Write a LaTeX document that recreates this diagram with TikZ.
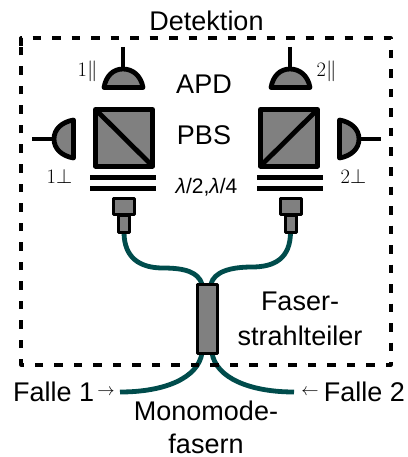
\documentclass[tikz,border=0pt]{standalone}
\usepackage{fontspec}
\setmainfont{Liberation Sans}
\newfontfamily\rmlm{Latin Modern Roman}
\definecolor{fiber}{HTML}{004C4C}
\definecolor{greyfill}{HTML}{808080}
\tikzset{
  lbl/.style={inner sep=0pt,font=\fontsize{27}{27}\selectfont},
  sml/.style={inner sep=0pt,font=\fontsize{21}{21}\selectfont},
  idx/.style={inner sep=0pt,font=\rmlm\fontsize{20.5}{20.5}\selectfont,text=black},
  arr/.style={inner sep=0pt,font=\fontsize{18.5}{18.5}\selectfont},
  cube/.style={draw=black,fill=greyfill,line width=5pt,line join=round},
  det/.style={draw=black,fill=greyfill,line width=4.8pt,line join=round},
  stem/.style={draw=black,line width=4.8pt},
  plate/.style={draw=black,line width=5.2pt},
  conn/.style={draw=black,fill=greyfill,line width=3pt,line join=round},
  fib/.style={draw=fiber,line width=4.8pt},
  frame/.style={draw=black,line width=3.2pt,dash pattern=on 8.5pt off 11pt,line join=round},
}
\begin{document}
\begin{tikzpicture}[x=1pt,y=-1pt]
\useasboundingbox (0,0) rectangle (407,457);
% fibres
\coordinate (fl) at (124,232);
\coordinate (fr) at (290.5,232);
\coordinate (stl) at (202,284);
\coordinate (str) at (211,284);
\coordinate (sbl) at (202,353);
\coordinate (sbr) at (212,353);
\coordinate (trap1) at (120,392);
\coordinate (trap2) at (294,392);
\draw[fib] (fl) .. controls (124,258) and (140,268) .. (163,268) .. controls (185,268) and (198,272) .. (stl);
\draw[fib] (fr) .. controls (290.5,258) and (275,267) .. (252,267) .. controls (230,267) and (214,272) .. (str);
\draw[fib] (sbl) .. controls (198,378) and (165,392) .. (trap1);
\draw[fib] (sbr) .. controls (216,378) and (250,392) .. (trap2);
% frame
\draw[frame] (21,46) -- (21,38) -- (391,38) -- (391,365) -- (21,365) -- cycle;
% splitter
\node[conn,minimum width=20pt,minimum height=69pt,inner sep=0pt] (split) at (207,318.5) {};
% PBS left
\draw[cube] (95.5,109.5) rectangle (152.5,166);
\draw[stem] (95.5,109.5) -- (152.5,166);
\draw[plate] (90,177.5) -- (156,177.5);
\draw[plate] (90,188.5) -- (156,188.5);
\node[conn,minimum width=21pt,minimum height=16pt,inner sep=0pt] (cl1) at (123.5,206) {};
\node[conn,minimum width=11pt,minimum height=17pt,inner sep=0pt] (cl2) at (123.5,223.5) {};
% PBS right
\draw[cube] (260.5,109.5) rectangle (317.5,166);
\draw[stem] (260.5,166) -- (317.5,109.5);
\draw[plate] (257,177.5) -- (323,177.5);
\draw[plate] (257,188.5) -- (323,188.5);
\node[conn,minimum width=21pt,minimum height=16pt,inner sep=0pt] (cr1) at (290.5,206) {};
\node[conn,minimum width=11pt,minimum height=17pt,inner sep=0pt] (cr2) at (290.5,223.5) {};
% detectors
\draw[stem] (123,47) -- (123,68);
\draw[det] (104,87.5) .. controls (106,76) and (113,69) .. (123,69) .. controls (133,69) and (141,76) .. (143,87.5) -- cycle;
\draw[stem] (290,47) -- (290,68);
\draw[det] (271,87.5) .. controls (273,76) and (280,69) .. (290,69) .. controls (300,69) and (308,76) .. (310,87.5) -- cycle;
\draw[stem] (32,139) -- (54,139);
\draw[det] (73.5,120) .. controls (62,122) and (54,129) .. (54,139) .. controls (54,149) and (62,156) .. (73.5,158) -- cycle;
\draw[stem] (359,139) -- (381,139);
\draw[det] (339.5,120) .. controls (351,122) and (359,129) .. (359,139) .. controls (359,149) and (351,156) .. (339.5,158) -- cycle;
% labels
\node[lbl] (det) at (206.5,21) {Detektion};
\node[lbl] (apd) at (204,84) {APD};
\node[lbl] (pbs) at (204,135) {PBS};
\node[sml] (wp) at (206.5,187) {{\itshape λ}/2,{\itshape λ}/4};
\node[idx] (d1p) at (87.5,71) {1$\|$};
\node[idx] (d2p) at (326.5,71) {2$\|$};
\node[idx] (d1s) at (59.5,176) {1$\perp$};
\node[idx] (d2s) at (353.5,176) {2$\perp$};
\node[lbl] (fa) at (300,301) {Faser-};
\node[lbl] (st) at (300,336) {strahlteiler};
\node[lbl,anchor=west] (f1) at (13,392) {Falle 1};
\node[lbl,anchor=east] (f2) at (405,392) {Falle 2};
\node[arr] (a1) at (106,392) {$\rightarrow$};
\node[arr] (a2) at (310,392) {$\leftarrow$};
\node[lbl,anchor=base] (mo) at (206,420) {Monomode-};
\node[lbl,anchor=base] (fs) at (206,453.5) {fasern};
\end{tikzpicture}
\end{document}
